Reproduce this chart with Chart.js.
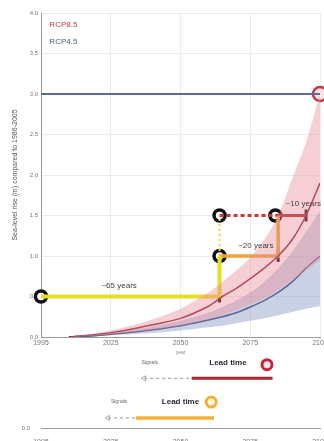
<!DOCTYPE html>
<html>
<head>
<meta charset="utf-8">
<script src="https://cdn.jsdelivr.net/npm/chart.js@4"></script>
<style>
  html, body { margin: 0; padding: 0; background: #fff; }
  body { width: 324px; height: 441px; position: relative; overflow: hidden; }
  #main { position: absolute; left: 0; top: 0; }
  #lead { position: absolute; left: 0; top: 356px; }
</style>
</head>
<body>
<canvas id="main" width="324" height="356"></canvas>
<canvas id="lead" width="324" height="85"></canvas>
<script>
// sea-level projections
const YEARS = [2010, 2020, 2030, 2040, 2050, 2060, 2065, 2070, 2075, 2080, 2085, 2090, 2095, 2100];
const RCP85_MID = [0, 0.03, 0.08, 0.15, 0.23, 0.38, 0.5, 0.6, 0.72, 0.85, 1.0, 1.2, 1.5, 1.9];
const RCP85_HIGH = [0, 0.05, 0.12, 0.22, 0.35, 0.55, 0.68, 0.82, 0.98, 1.2, 1.5, 1.95, 2.4, 3.0];
const RCP85_LOW = [0, 0.02, 0.05, 0.09, 0.14, 0.22, 0.27, 0.33, 0.4, 0.48, 0.58, 0.7, 0.82, 0.95];
const RCP45_MID = [0, 0.02, 0.05, 0.09, 0.14, 0.21, 0.25, 0.3, 0.37, 0.45, 0.55, 0.68, 0.85, 1.0];
const RCP45_HIGH = [0, 0.03, 0.07, 0.13, 0.2, 0.3, 0.37, 0.45, 0.55, 0.68, 0.85, 1.05, 1.3, 1.55];
const RCP45_LOW = [0, 0.01, 0.03, 0.05, 0.08, 0.12, 0.14, 0.17, 0.2, 0.23, 0.27, 0.31, 0.35, 0.38];

const THRESHOLD = 3.0;
const XTICKS = [2000, 2025, 2050, 2075, 2100];
const XTICK_LABELS = ['1995', '2025', '2050', '2075', '2100'];

// signal paths (year, metres)
const YELLOW_PATH = [[2000, 0.5], [2064, 0.5], [2064, 1.0]];
const YELLOW_DOTS = [[2064, 1.0], [2064, 1.5]];
const ORANGE_PATH = [[2064, 1.0], [2085, 1.0], [2085, 1.5]];
const RED_DOTS = [[2064, 1.5], [2084, 1.5]];
const RED_PATH = [[2084, 1.5], [2095, 1.5]];
const SIGNAL_TICKS = [[2064, 0.5], [2085, 1.0], [2095, 1.5]];
const SIGNAL_RINGS = [[2000, 0.5], [2064, 1.0], [2064, 1.5], [2084, 1.5]];
const LABELS = [
  { text: '~65 years', x: 2028, y: 0.63 },
  { text: '~20 years', x: 2077, y: 1.13 },
  { text: '~10 years', x: 2094, y: 1.65 },
];

// lower panel: lead-time legend
const RED_ARROW = [[2037, 0.69], [2053, 0.69]];
const RED_LEAD = [[2054, 0.69], [2083, 0.69]];
const RED_RING = [[2081, 0.88]];
const ORANGE_ARROW = [[2024, 0.14], [2034, 0.14]];
const ORANGE_LEAD = [[2034, 0.14], [2062, 0.14]];
const ORANGE_RING = [[2061, 0.36]];
const LEAD_TEXTS = [
  { text: 'Signals', x: 2039, y: 0.91, small: true },
  { text: 'Lead time', x: 2067, y: 0.91 },
  { text: 'Signals', x: 2028, y: 0.36, small: true },
  { text: 'Lead time', x: 2050, y: 0.36 },
];

const FONT = "'Liberation Sans', Arial, sans-serif";
const pts = (arr) => arr.map(([x, y]) => ({ x, y }));
const series = (vals) => YEARS.map((x, i) => ({ x, y: vals[i] }));

function xScale(extra) {
  return Object.assign({
    type: 'linear',
    min: 2000,
    max: 2100,
    afterBuildTicks: (s) => { s.ticks = XTICKS.map((v) => ({ value: v })); },
    ticks: {
      color: '#777',
      font: { family: FONT, size: 7 },
      padding: 2,
      maxRotation: 0,
      callback: (v) => XTICK_LABELS[XTICKS.indexOf(v)] ?? '',
    },
    border: { color: '#999', width: 1 },
  }, extra);
}

const textPlugin = {
  id: 'texts',
  afterDatasetsDraw(chart, args, opts) {
    const { ctx, scales } = chart;
    ctx.save();
    ctx.textBaseline = 'middle';
    (opts.items || []).forEach((t) => {
      ctx.font = t.font || `8px ${FONT}`;
      ctx.fillStyle = t.color || '#333';
      ctx.textAlign = t.align || 'center';
      ctx.fillText(t.text, scales.x.getPixelForValue(t.x), scales.y.getPixelForValue(t.y));
    });
    ctx.restore();
  },
};

function line(data, color, width, extra) {
  return Object.assign({
    data, borderColor: color, borderWidth: width, pointRadius: 0, fill: false, tension: 0,
  }, extra);
}

new Chart(document.getElementById('main'), {
  type: 'line',
  data: {
    datasets: [
      line(series(RCP85_HIGH), 'rgba(0,0,0,0)', 0, { fill: '+1', backgroundColor: 'rgba(232,140,150,0.42)', tension: 0.3 }),
      line(series(RCP85_LOW), 'rgba(0,0,0,0)', 0, { tension: 0.3 }),
      line(series(RCP45_HIGH), 'rgba(0,0,0,0)', 0, { fill: '+1', backgroundColor: 'rgba(140,152,195,0.45)', tension: 0.3 }),
      line(series(RCP45_LOW), 'rgba(0,0,0,0)', 0, { tension: 0.3 }),
      line(series(RCP85_MID), '#8e1b30', 1.5, { tension: 0.3 }),
      line(series(RCP45_MID), '#333b6c', 1.5, { tension: 0.3 }),
      line([{ x: 2000, y: THRESHOLD }, { x: 2100, y: THRESHOLD }], '#5b6c9c', 2),
      line(pts(YELLOW_DOTS), '#e6d84a', 2, { borderDash: [2, 3] }),
      line(pts(YELLOW_PATH), '#e9dc25', 4),
      line(pts(ORANGE_PATH), '#f0a23a', 3.5),
      line(pts(RED_DOTS), '#d8303c', 3, { borderDash: [4, 3] }),
      line(pts(RED_PATH), '#b3202f', 3),
      line(pts(SIGNAL_TICKS), 'rgba(0,0,0,0)', 0, {
        showLine: false, pointStyle: 'line', rotation: 90, pointRadius: 6,
        pointBorderColor: '#111', pointBorderWidth: 3, clip: false,
      }),
      line(pts(SIGNAL_RINGS), 'rgba(0,0,0,0)', 0, {
        showLine: false, pointRadius: 5.5, pointBorderWidth: 3.5,
        pointBorderColor: '#111', pointBackgroundColor: '#fff', clip: false,
      }),
      line([{ x: 2100, y: THRESHOLD }], 'rgba(0,0,0,0)', 0, {
        showLine: false, pointRadius: 7, pointBorderWidth: 2.5,
        pointBorderColor: '#c0394a', pointBackgroundColor: '#fbe3e6', clip: false,
      }),
    ],
  },
  options: {
    responsive: false,
    animation: false,
    devicePixelRatio: 1,
    layout: { autoPadding: false, padding: { top: 13, right: 4, left: 0, bottom: 0 } },
    plugins: {
      legend: { display: false },
      tooltip: { enabled: false },
      texts: {
        items: [
          { text: 'RCP8.5', x: 2003, y: 3.86, color: '#c0394a', align: 'left' },
          { text: 'RCP4.5', x: 2003, y: 3.64, color: '#4d5d8c', align: 'left' },
          ...LABELS.map((l) => ({ ...l, font: `8px ${FONT}`, color: '#444' })),
        ],
      },
    },
    scales: {
      x: xScale({
        grid: { color: '#ececec', lineWidth: 1, drawTicks: false },
        afterFit: (s) => { s.paddingLeft = 0; s.paddingRight = 0; s.height = 19; },
        title: { display: true, text: 'year', color: '#888', font: { family: FONT, size: 5 }, padding: 0 },
      }),
      y: {
        min: 0,
        max: 4,
        afterFit: (s) => { s.width = 41; },
        ticks: { stepSize: 0.5, color: '#777', font: { family: FONT, size: 6 }, padding: 3, callback: (v) => v.toFixed(1) },
        grid: { color: '#ececec', drawTicks: false },
        border: { color: '#999', width: 1 },
        title: {
          display: true,
          text: 'Sea-level rise (m) compared to 1986-2005',
          color: '#555',
          font: { family: FONT, size: 7 },
          padding: { top: 11, bottom: 2 },
        },
      },
    },
  },
  plugins: [textPlugin],
});

new Chart(document.getElementById('lead'), {
  type: 'line',
  data: {
    datasets: [
      line(pts(RED_ARROW), '#aaa', 1.2, { borderDash: [3, 3] }),
      line(pts(RED_ARROW.slice(0, 1)), 'rgba(0,0,0,0)', 0, {
        showLine: false, pointStyle: 'triangle', rotation: -90, pointRadius: 3,
        pointBorderColor: '#aaa', pointBackgroundColor: '#fff', pointBorderWidth: 1,
      }),
      line(pts(RED_LEAD), '#b81f35', 3),
      line(pts(ORANGE_ARROW), '#aaa', 1.2, { borderDash: [3, 3] }),
      line(pts(ORANGE_ARROW.slice(0, 1)), 'rgba(0,0,0,0)', 0, {
        showLine: false, pointStyle: 'triangle', rotation: -90, pointRadius: 3,
        pointBorderColor: '#aaa', pointBackgroundColor: '#fff', pointBorderWidth: 1,
      }),
      line(pts(ORANGE_LEAD), '#f0b13a', 3.5),
      line(pts(RED_RING), 'rgba(0,0,0,0)', 0, {
        showLine: false, pointRadius: 5, pointBorderWidth: 3,
        pointBorderColor: '#c0283e', pointBackgroundColor: '#fbe3e6', clip: false,
      }),
      line(pts(ORANGE_RING), 'rgba(0,0,0,0)', 0, {
        showLine: false, pointRadius: 5, pointBorderWidth: 3,
        pointBorderColor: '#f0b13a', pointBackgroundColor: '#fff6d8', clip: false,
      }),
    ],
  },
  options: {
    responsive: false,
    animation: false,
    devicePixelRatio: 1,
    layout: { autoPadding: false, padding: { top: 0, right: 4, left: 0, bottom: 0 } },
    plugins: {
      legend: { display: false },
      tooltip: { enabled: false },
      texts: {
        items: LEAD_TEXTS.map((t) => ({
          ...t,
          font: t.small ? `5px ${FONT}` : `bold 8px ${FONT}`,
          color: t.small ? '#666' : '#2a2a3a',
        })),
      },
    },
    scales: {
      x: xScale({
        grid: { display: false },
        afterFit: (s) => { s.paddingLeft = 0; s.paddingRight = 0; s.height = 13; },
      }),
      y: {
        min: 0,
        max: 1,
        afterFit: (s) => { s.width = 41; s.paddingTop = 0; s.paddingBottom = 0; },
        afterBuildTicks: (s) => { s.ticks = [{ value: 0 }]; },
        ticks: { color: '#777', font: { family: FONT, size: 6 }, padding: 3, callback: (v) => v.toFixed(1) },
        grid: { display: false },
        border: { display: false },
      },
    },
  },
  plugins: [textPlugin],
});
</script>
</body>
</html>
